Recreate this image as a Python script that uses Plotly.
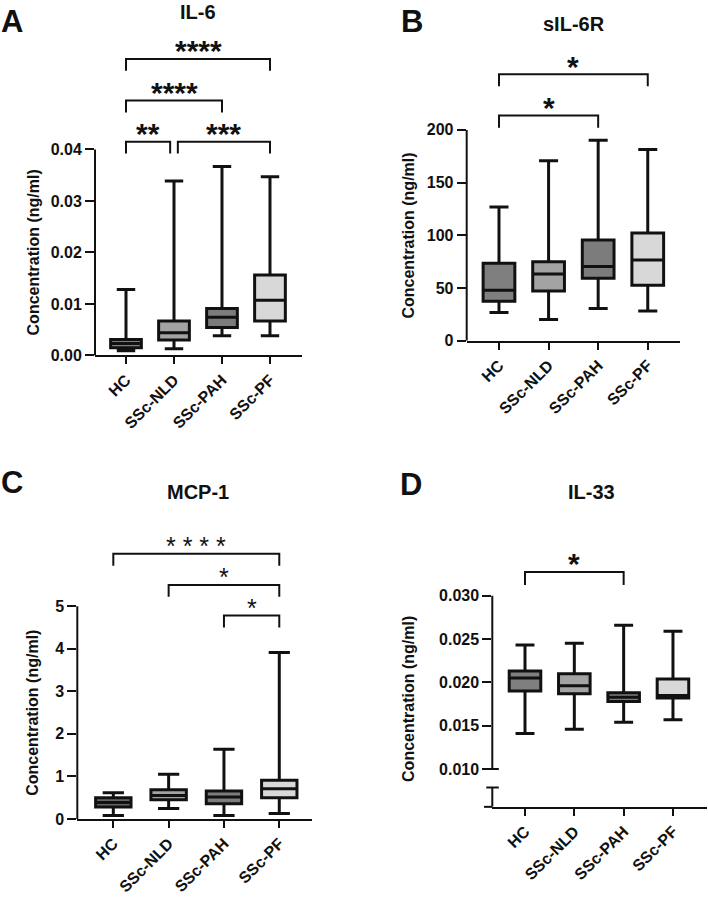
import plotly.graph_objects as go

FONT = "Liberation Sans, Arial, Helvetica, sans-serif"
W, H = 708, 900

categories = ["HC", "SSc-NLD", "SSc-PAH", "SSc-PF"]
box_colors = ["#7f7f7f", "#a3a3a3", "#7c7c7c", "#d8d8d8"]
box_colors_c = ["#666666", "#a3a3a3", "#7c7c7c", "#d8d8d8"]

# ---- Panel A : IL-6 (ng/ml)
il6_min = [0.0009, 0.0013, 0.0038, 0.0038]
il6_q1 = [0.0015, 0.0030, 0.0054, 0.0067]
il6_med = [0.0023, 0.0044, 0.0074, 0.0107]
il6_q3 = [0.0031, 0.0067, 0.0091, 0.0156]
il6_max = [0.0128, 0.0339, 0.0367, 0.0347]
il6_ticks = [0.0, 0.01, 0.02, 0.03, 0.04]
il6_ticktext = ["0.00", "0.01", "0.02", "0.03", "0.04"]
il6_pairs = [(0, 3), (0, 2), (0, 1), (1, 3)]
il6_trim = [(0, 0), (0, 0), (0, 0.08), (0.08, 0)]
il6_stars = ["****", "****", "**", "***"]
il6_levels = [0.0576, 0.0495, 0.0415, 0.0415]

# ---- Panel B : sIL-6R (ng/ml)
sil6r_min = [26.8, 20.3, 30.6, 28.2]
sil6r_q1 = [37.5, 47.2, 59.4, 52.6]
sil6r_med = [47.9, 63.5, 70.4, 76.6]
sil6r_q3 = [73.5, 75.0, 95.7, 102.3]
sil6r_max = [127.0, 170.8, 190.2, 181.4]
sil6r_ticks = [0, 50, 100, 150, 200]
sil6r_ticktext = ["0", "50", "100", "150", "200"]
sil6r_pairs = [(0, 3), (0, 2)]
sil6r_trim = [(0, 0), (0, 0)]
sil6r_stars = ["*", "*"]
sil6r_levels = [252.8, 213.6]

# ---- Panel C : MCP-1 (ng/ml)
mcp1_min = [0.08, 0.25, 0.08, 0.13]
mcp1_q1 = [0.28, 0.45, 0.36, 0.50]
mcp1_med = [0.39, 0.55, 0.52, 0.71]
mcp1_q3 = [0.50, 0.69, 0.66, 0.91]
mcp1_max = [0.62, 1.05, 1.64, 3.91]
mcp1_ticks = [0, 1, 2, 3, 4, 5]
mcp1_ticktext = ["0", "1", "2", "3", "4", "5"]
mcp1_pairs = [(0, 3), (1, 3), (2, 3)]
mcp1_trim = [(0, 0), (0, 0), (0, 0)]
mcp1_stars = ["* * * *", "*", "*"]
mcp1_levels = [6.23, 5.50, 4.78]

# ---- Panel D : IL-33 (ng/ml)
il33_min = [0.0141, 0.0146, 0.0154, 0.0157]
il33_q1 = [0.0190, 0.0187, 0.0178, 0.0182]
il33_med = [0.0205, 0.0196, 0.0183, 0.0185]
il33_q3 = [0.0213, 0.0210, 0.0188, 0.0204]
il33_max = [0.0243, 0.0245, 0.0266, 0.0259]
il33_ticks = [0.010, 0.015, 0.020, 0.025, 0.030]
il33_ticktext = ["0.010", "0.015", "0.020", "0.025", "0.030"]
il33_pairs = [(0, 2)]
il33_trim = [(0, 0)]
il33_stars = ["*"]
il33_levels = [0.03274]

panels = [
    dict(n="", letter="A", title="IL-6", stats=(il6_min, il6_q1, il6_med, il6_q3, il6_max),
         colors=box_colors, ticks=il6_ticks, ticktext=il6_ticktext,
         pairs=il6_pairs, trim=il6_trim, stars=il6_stars, levels=il6_levels,
         xpx=(95, 302), ypx=(359, 30), xr=(-0.646, 3.667), yr=(0, 0.06327),
         leg=0.0023, ax_segments=[(0, 0.04)], star_bold=True, star_size=30,
         title_pos=(198, 12), letter_pos=(12, 22), ytitle_pos=(33, 255)),
    dict(n="2", letter="B", title="sIL-6R", stats=(sil6r_min, sil6r_q1, sil6r_med, sil6r_q3, sil6r_max),
         colors=box_colors, ticks=sil6r_ticks, ticktext=sil6r_ticktext,
         pairs=sil6r_pairs, trim=sil6r_trim, stars=sil6r_stars, levels=sil6r_levels,
         xpx=(466.7, 680), ypx=(344.3, 40), xr=(-0.651, 3.65), yr=(0, 285.6),
         leg=11.5, ax_segments=[(0, 200)], star_bold=True, star_size=30,
         title_pos=(574, 24), letter_pos=(412, 22), ytitle_pos=(409, 238)),
    dict(n="3", letter="C", title="MCP-1", stats=(mcp1_min, mcp1_q1, mcp1_med, mcp1_q3, mcp1_max),
         colors=box_colors_c, ticks=mcp1_ticks, ticktext=mcp1_ticktext,
         pairs=mcp1_pairs, trim=mcp1_trim, stars=mcp1_stars, levels=mcp1_levels,
         xpx=(77.3, 311.7), ypx=(827.3, 530), xr=(-0.651, 3.586), yr=(0, 6.914),
         leg=0.28, ax_segments=[(0, 5)], star_bold=False, star_size=25,
         title_pos=(198, 497), letter_pos=(12, 487), ytitle_pos=(33, 720)),
    dict(n="4", letter="D", title="IL-33", stats=(il33_min, il33_q1, il33_med, il33_q3, il33_max),
         colors=box_colors, ticks=il33_ticks, ticktext=il33_ticktext,
         pairs=il33_pairs, trim=il33_trim, stars=il33_stars, levels=il33_levels,
         xpx=(492.3, 707), ypx=(815, 540), xr=(-0.663, 3.69), yr=(0.00565, 0.03704),
         leg=0.0015, ax_segments=[(0.010, 0.030), (0.00565, 0.00787)], star_bold=True, star_size=30,
         title_pos=(591, 497), letter_pos=(411, 489), ytitle_pos=(409, 706)),
]

fig = go.Figure()
shapes = []
annotations = []
layout = dict(
    width=W, height=H, margin=dict(l=0, r=0, t=0, b=0),
    paper_bgcolor="white", plot_bgcolor="white", showlegend=False,
    boxmode="overlay", font=dict(family=FONT, color="#111111"),
)

for p in panels:
    n = p["n"]
    xa, ya = "x" + n, "y" + n
    mins, q1s, meds, q3s, maxs = p["stats"]
    for i in range(len(categories)):
        fig.add_trace(go.Box(
            x=[i], q1=[q1s[i]], median=[meds[i]], q3=[q3s[i]],
            lowerfence=[mins[i]], upperfence=[maxs[i]],
            width=0.64, whiskerwidth=0.6, fillcolor=p["colors"][i],
            line=dict(color="#111111", width=3), boxpoints=False,
            xaxis=xa, yaxis=ya, hoverinfo="skip", showlegend=False,
        ))
    x0p, x1p = p["xpx"]
    yb, yt = p["ypx"]
    layout["xaxis" + n] = dict(
        domain=[x0p / W, x1p / W], range=list(p["xr"]), anchor=ya,
        tickvals=list(range(len(categories))), ticktext=categories,
        tickangle=-45, ticks="outside", ticklen=7, tickwidth=2, tickcolor="#111111",
        showline=True, linewidth=2, linecolor="#111111", showgrid=False, zeroline=False,
        tickfont=dict(family=FONT, size=16, weight="bold", color="#111111"),
    )
    layout["yaxis" + n] = dict(
        domain=[1 - yb / H, 1 - yt / H], range=list(p["yr"]), anchor=xa,
        tickvals=p["ticks"], ticktext=p["ticktext"],
        ticks="outside", ticklen=9, tickwidth=2, tickcolor="#111111",
        showline=False, showgrid=False, zeroline=False,
        tickfont=dict(family=FONT, size=16, weight="bold", color="#111111"),
    )
    # y axis line segments
    for (s0, s1) in p["ax_segments"]:
        shapes.append(dict(type="line", xref=xa + " domain", yref=ya, x0=0, x1=0, y0=s0, y1=s1,
                           line=dict(color="#111111", width=2)))
    if len(p["ax_segments"]) > 1:
        # axis break marks
        for yv in (p["ax_segments"][0][0], p["ax_segments"][1][1]):
            shapes.append(dict(type="line", xref="paper", yref=ya,
                               x0=(x0p - 6) / W, x1=(x0p + 6.5) / W, y0=yv, y1=yv,
                               line=dict(color="#111111", width=2)))
        shapes.append(dict(type="line", xref="paper", yref=ya + " domain",
                           x0=484 / W, x1=x0p / W, y0=0, y1=0,
                           line=dict(color="#111111", width=2)))
    # significance brackets
    for (a, b), (ta, tb), lab, lev in zip(p["pairs"], p["trim"], p["stars"], p["levels"]):
        xa0, xb0 = a + ta, b - tb
        shapes.append(dict(type="path", xref=xa, yref=ya,
                           path=f"M {xa0},{lev - p['leg']} L {xa0},{lev} L {xb0},{lev} L {xb0},{lev - p['leg']}",
                           line=dict(color="#111111", width=2)))
        annotations.append(dict(x=(xa0 + xb0) / 2, y=lev, xref=xa, yref=ya, text=lab,
                                showarrow=False, yanchor="middle", yshift=8,
                                font=dict(family=FONT, size=p["star_size"],
                                          weight="bold" if p["star_bold"] else "normal",
                                          color="#111111")))
    # panel titles, letters, axis titles
    tx, ty = p["title_pos"]
    annotations.append(dict(x=tx / W, y=1 - ty / H, xref="paper", yref="paper", text=p["title"],
                            showarrow=False, xanchor="center", yanchor="middle",
                            font=dict(family=FONT, size=20, weight="bold", color="#111111")))
    lx, ly = p["letter_pos"]
    annotations.append(dict(x=lx / W, y=1 - ly / H, xref="paper", yref="paper", text=p["letter"],
                            showarrow=False, xanchor="center", yanchor="middle",
                            font=dict(family=FONT, size=31, weight="bold", color="#111111")))
    ax_, ay_ = p["ytitle_pos"]
    annotations.append(dict(x=ax_ / W, y=1 - ay_ / H, xref="paper", yref="paper",
                            text="Concentration (ng/ml)", textangle=-90,
                            showarrow=False, xanchor="center", yanchor="middle",
                            font=dict(family=FONT, size=16, weight="bold", color="#111111")))

layout["shapes"] = shapes
layout["annotations"] = annotations
fig.update_layout(**layout)
fig.write_html("out.html")
